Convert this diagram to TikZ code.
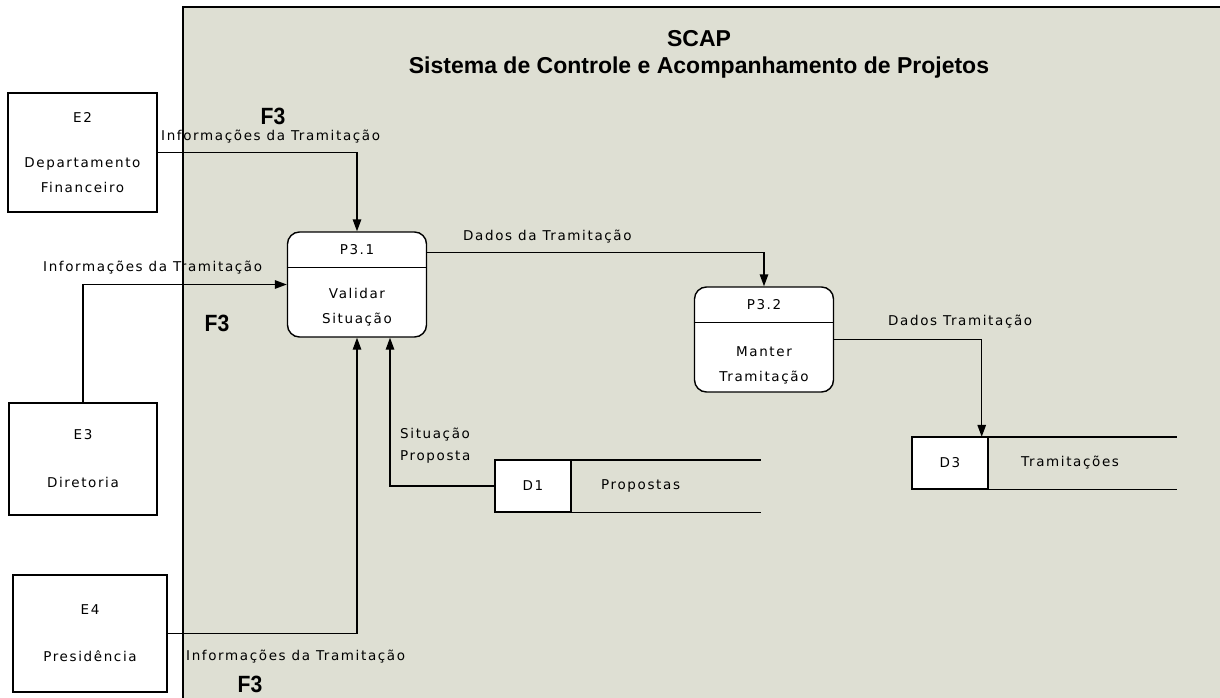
\documentclass[tikz,border=0pt]{standalone}
\usepackage{fontspec}
\setmainfont[LetterSpace=12]{DejaVu Sans}
\newfontfamily\titlefont{Liberation Sans}
\usetikzlibrary{arrows.meta}
\definecolor{panelgray}{RGB}{222,223,211}
\begin{document}
\begin{tikzpicture}[x=1pt,y=-1pt,
  lbl/.style={font=\fontsize{13.5}{22}\selectfont, inner sep=0pt, align=left},
  ext/.style={draw, line width=1.4pt, fill=white},
  exttext/.style={font=\fontsize{13.5}{25}\selectfont, align=center, inner sep=0pt},
  proc/.style={draw, line width=1.4pt, fill=white, rounded corners=12pt, minimum width=139pt, minimum height=105pt},
  store/.style={draw, line width=1.4pt, fill=white, minimum width=76pt, minimum height=51pt, font=\fontsize{13.5}{16}\selectfont},
  flow/.style={line width=1.4pt, -{Triangle[length=12pt,width=8.5pt]}},
  thin/.style={line width=1.4pt},
  fthree/.style={inner sep=0pt, font=\titlefont\bfseries\fontsize{23.5}{24}\selectfont},
  titlestyle/.style={font=\titlefont\bfseries\fontsize{23}{27}\selectfont, align=center, inner sep=0pt}
]
\useasboundingbox (0,0) rectangle (1220,698);
\fill[white] (0,0) rectangle (1220,698);
% panel
\fill[panelgray] (183,7) rectangle (1220,698);
\draw[thin] (183,698) -- (183,7) -- (1220,7);
% title
\node[titlestyle] (title) at (699,54) {SCAP\\Sistema de Controle e Acompanhamento de Projetos};
% external entities
\node[ext, minimum width=149pt, minimum height=119pt] (E2) at (82.5,152.5) {};
\node[exttext] (E2t) at (E2.center) {E2\\[20pt]Departamento\\Financeiro};
\node[ext, minimum width=148pt, minimum height=112pt] (E3) at (83,459) {};
\node[exttext] (E3t) at (E3.center) {E3\\[23pt]Diretoria};
\node[ext, minimum width=154pt, minimum height=117pt] (E4) at (90,633.5) {};
\node[exttext] (E4t) at (E4.center) {E4\\[22pt]Presidência};
% processes
\node[proc] (P31) at (357,284.5) {};
\draw[thin] ([yshift=-36pt]P31.north west) -- ([yshift=-36pt]P31.north east);
\node[exttext] (P31id) at (357,250) {P3.1};
\node[exttext] (P31nm) at (357,307) {Validar\\Situação};
\node[proc] (P32) at (764,339.5) {};
\draw[thin] ([yshift=-36pt]P32.north west) -- ([yshift=-36pt]P32.north east);
\node[exttext] (P32id) at (764,305) {P3.2};
\node[exttext] (P32nm) at (764,365) {Manter\\Tramitação};
% data stores
\node[store] (D1) at (533,486) {D1};
\draw[thin] (D1.north west) -- ++(267,0);
\draw[thin] (D1.south west) -- ++(267,0);
\node[lbl, anchor=west] (D1nm) at (601,486) {Propostas};
\node[store] (D3) at (950,463) {D3};
\draw[thin] (D3.north west) -- ++(266,0);
\draw[thin] (D3.south west) -- ++(266,0);
\node[lbl, anchor=west] (D3nm) at (1021,463) {Tramitações};
% flows
\draw[flow] (E2.east) -| (P31.north);
\draw[flow] (E3.north) |- (P31.west);
\draw[flow] (E4.east) -| (P31.south);
\draw[flow] (D1.west) -| ([xshift=33pt]P31.south);
\draw[flow] ([yshift=32pt]P31.east) -| (P32.north);
\draw[flow] (P32.east) -| ([xshift=-7pt]D3.north east);
% flow labels
\node[fthree] (F3a) at (273,116) {\scalebox{0.9}[1]{F3}};
\node[lbl, anchor=west] (L1) at (161,137) {Informações da Tramitação};
\node[lbl, anchor=west] (L2) at (43,268) {Informações da Tramitação};
\node[fthree] (F3b) at (217,323) {\scalebox{0.9}[1]{F3}};
\node[lbl, anchor=west] (L3) at (186,657) {Informações da Tramitação};
\node[fthree] (F3c) at (250,684) {\scalebox{0.9}[1]{F3}};
\node[lbl, anchor=west] (L4) at (463,237) {Dados da Tramitação};
\node[lbl, anchor=west] (L5) at (888,322) {Dados Tramitação};
\node[lbl, anchor=west] (L6) at (400,446) {Situação\\Proposta};
\end{tikzpicture}
\end{document}
